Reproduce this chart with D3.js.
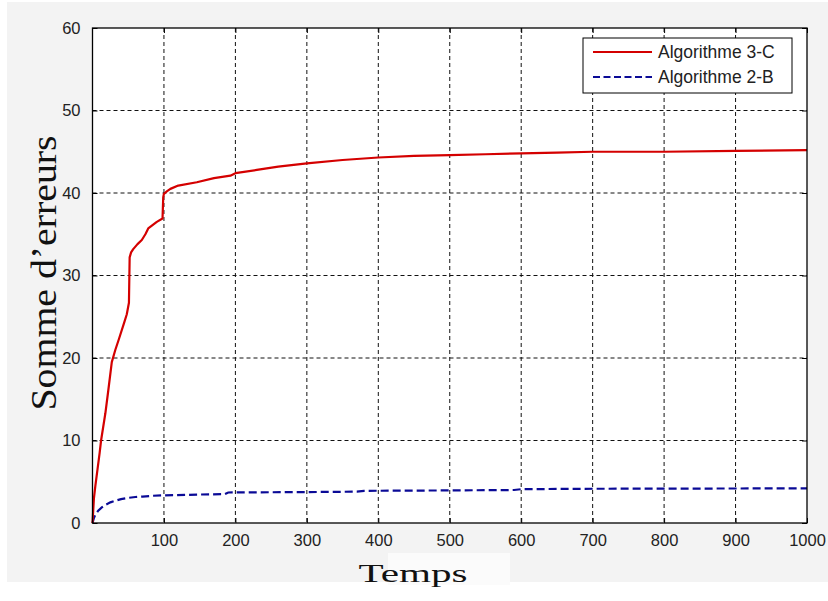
<!DOCTYPE html>
<html><head><meta charset="utf-8">
<script src="https://cdn.jsdelivr.net/npm/d3@7"></script>
<style>html,body{margin:0;padding:0;background:#fff;}svg{display:block;}</style>
</head><body>
<svg id="c" width="828" height="601"></svg>
<script>
const xTicks = [100,200,300,400,500,600,700,800,900,1000];
const yTicks = [0,10,20,30,40,50,60];
const seriesNames = ["Algorithme 3-C","Algorithme 2-B"];
const redT = [0,1,2,4,7,10,12,18,22,27,32,37,44,48,51,52,54,57,63,69,74,78,84,90,98,99,100,104,109,120,146,170,193,200,230,260,300,350,400,450,500,550,600,650,700,800,900,1000];
const redV = [0,1.5,3.0,4.5,6.5,8.5,10,13.3,16,19.5,21,22.3,24.2,25.3,26.7,32.2,32.8,33.2,33.8,34.3,35.0,35.7,36.1,36.5,36.9,39.5,39.9,40.2,40.5,40.9,41.3,41.8,42.1,42.4,42.8,43.2,43.6,44.0,44.3,44.5,44.6,44.7,44.8,44.9,45.0,45.0,45.1,45.2];
const blueT = [0,2,4,8,13,18,25,32,40,50,60,70,85,100,150,185,190,300,370,380,500,590,600,700,1000];
const blueV = [0,0.6,1.0,1.5,1.9,2.2,2.5,2.7,2.9,3.05,3.15,3.2,3.3,3.35,3.45,3.5,3.7,3.75,3.8,3.9,3.95,4.0,4.1,4.15,4.2];

const svg = d3.select("#c");
const L = 92.5, R = 807, T = 28, B = 523;
const x = d3.scaleLinear().domain([0,1000]).range([L,R]);
const y = d3.scaleLinear().domain([0,60]).range([B,T]);

// figure background
svg.append("rect").attr("x",7).attr("y",2).attr("width",821).attr("height",580).attr("fill","#f3f3f3");
svg.append("rect").attr("x",388).attr("y",553).attr("width",122).attr("height",32).attr("fill","#fbfbfb");
// plot area
svg.append("rect").attr("x",L).attr("y",T).attr("width",R-L).attr("height",B-T).attr("fill","#fff");

// grid
const g = svg.append("g");
g.selectAll(".gx").data(xTicks.filter(d=>d<1000)).enter().append("line")
  .attr("x1",d=>x(d)).attr("x2",d=>x(d)).attr("y1",T).attr("y2",B)
  .attr("stroke","#111").attr("stroke-width",1).attr("stroke-dasharray","4,3");
g.selectAll(".gy").data(yTicks.filter(d=>d>0&&d<60)).enter().append("line")
  .attr("x1",L).attr("x2",R).attr("y1",d=>y(d)).attr("y2",d=>y(d))
  .attr("stroke","#111").attr("stroke-width",1).attr("stroke-dasharray","4,3");

// axes with inside ticks
const ax = d3.axisBottom(x).tickValues(xTicks).tickSize(-5).tickPadding(11).tickFormat(d3.format("d"));
const axT = d3.axisTop(x).tickValues(xTicks).tickSize(-5).tickFormat("");
const ay = d3.axisLeft(y).tickValues(yTicks).tickSize(-5).tickPadding(12).tickFormat(d3.format("d"));
const ayR = d3.axisRight(y).tickValues(yTicks).tickSize(-5).tickFormat("");
function style(sel){
  sel.select(".domain").remove();
  sel.selectAll("line").attr("stroke","#000");
  sel.selectAll("text").attr("font-family","'Liberation Sans',Arial,sans-serif").attr("font-size","16.5px").attr("fill","#222");
}
svg.append("g").attr("transform",`translate(0,${B})`).call(ax).call(style);
svg.append("g").attr("transform",`translate(0,${T})`).call(axT).call(style);
svg.append("g").attr("transform",`translate(${L},0)`).call(ay).call(style);
svg.append("g").attr("transform",`translate(${R},0)`).call(ayR).call(style);

// lines
const redData = redT.map((t,i)=>[t,redV[i]]);
const blueData = blueT.map((t,i)=>[t,blueV[i]]);
const line = d3.line().x(d=>x(d[0])).y(d=>y(d[1]));
svg.append("path").datum(blueData).attr("d",line).attr("fill","none")
  .attr("stroke","#0a0a96").attr("stroke-width",2.2).attr("stroke-dasharray","8,4");
svg.append("path").datum(redData).attr("d",line).attr("fill","none")
  .attr("stroke","#d40000").attr("stroke-width",2.2).attr("stroke-linejoin","round");

// box
svg.append("rect").attr("x",L).attr("y",T).attr("width",R-L).attr("height",B-T)
  .attr("fill","none").attr("stroke","#000").attr("stroke-width",1.3);

// legend
const lg = svg.append("g");
lg.append("rect").attr("x",583).attr("y",38).attr("width",209).attr("height",55)
  .attr("fill","#fff").attr("stroke","#000").attr("stroke-width",1);
const legY = [52,77];
const legStyles = [{c:"#d40000",dash:null},{c:"#0a0a96",dash:"7,3.5"}];
seriesNames.forEach((n,i)=>{
  lg.append("line").attr("x1",593).attr("x2",652).attr("y1",legY[i]).attr("y2",legY[i])
    .attr("stroke",legStyles[i].c).attr("stroke-width",2.2).attr("stroke-dasharray",legStyles[i].dash);
  lg.append("text").attr("x",658).attr("y",legY[i]).attr("dy","0.36em")
    .attr("font-family","'Liberation Sans',Arial,sans-serif").attr("font-size","17.5px").attr("fill","#222").text(n);
});

// axis titles
svg.append("text").attr("transform","translate(56,273) rotate(-90)").attr("text-anchor","middle")
  .attr("font-family","'Liberation Serif','Times New Roman',serif").attr("font-size","36px").attr("fill","#111")
  .attr("textLength",275).attr("lengthAdjust","spacingAndGlyphs").text("Somme d\u2019erreurs");
svg.append("text").attr("x",413).attr("y",582).attr("text-anchor","middle")
  .attr("font-family","'Liberation Serif','Times New Roman',serif").attr("font-size","26px").attr("fill","#111")
  .attr("textLength",109).attr("lengthAdjust","spacingAndGlyphs").text("Temps");
</script>
</body></html>
